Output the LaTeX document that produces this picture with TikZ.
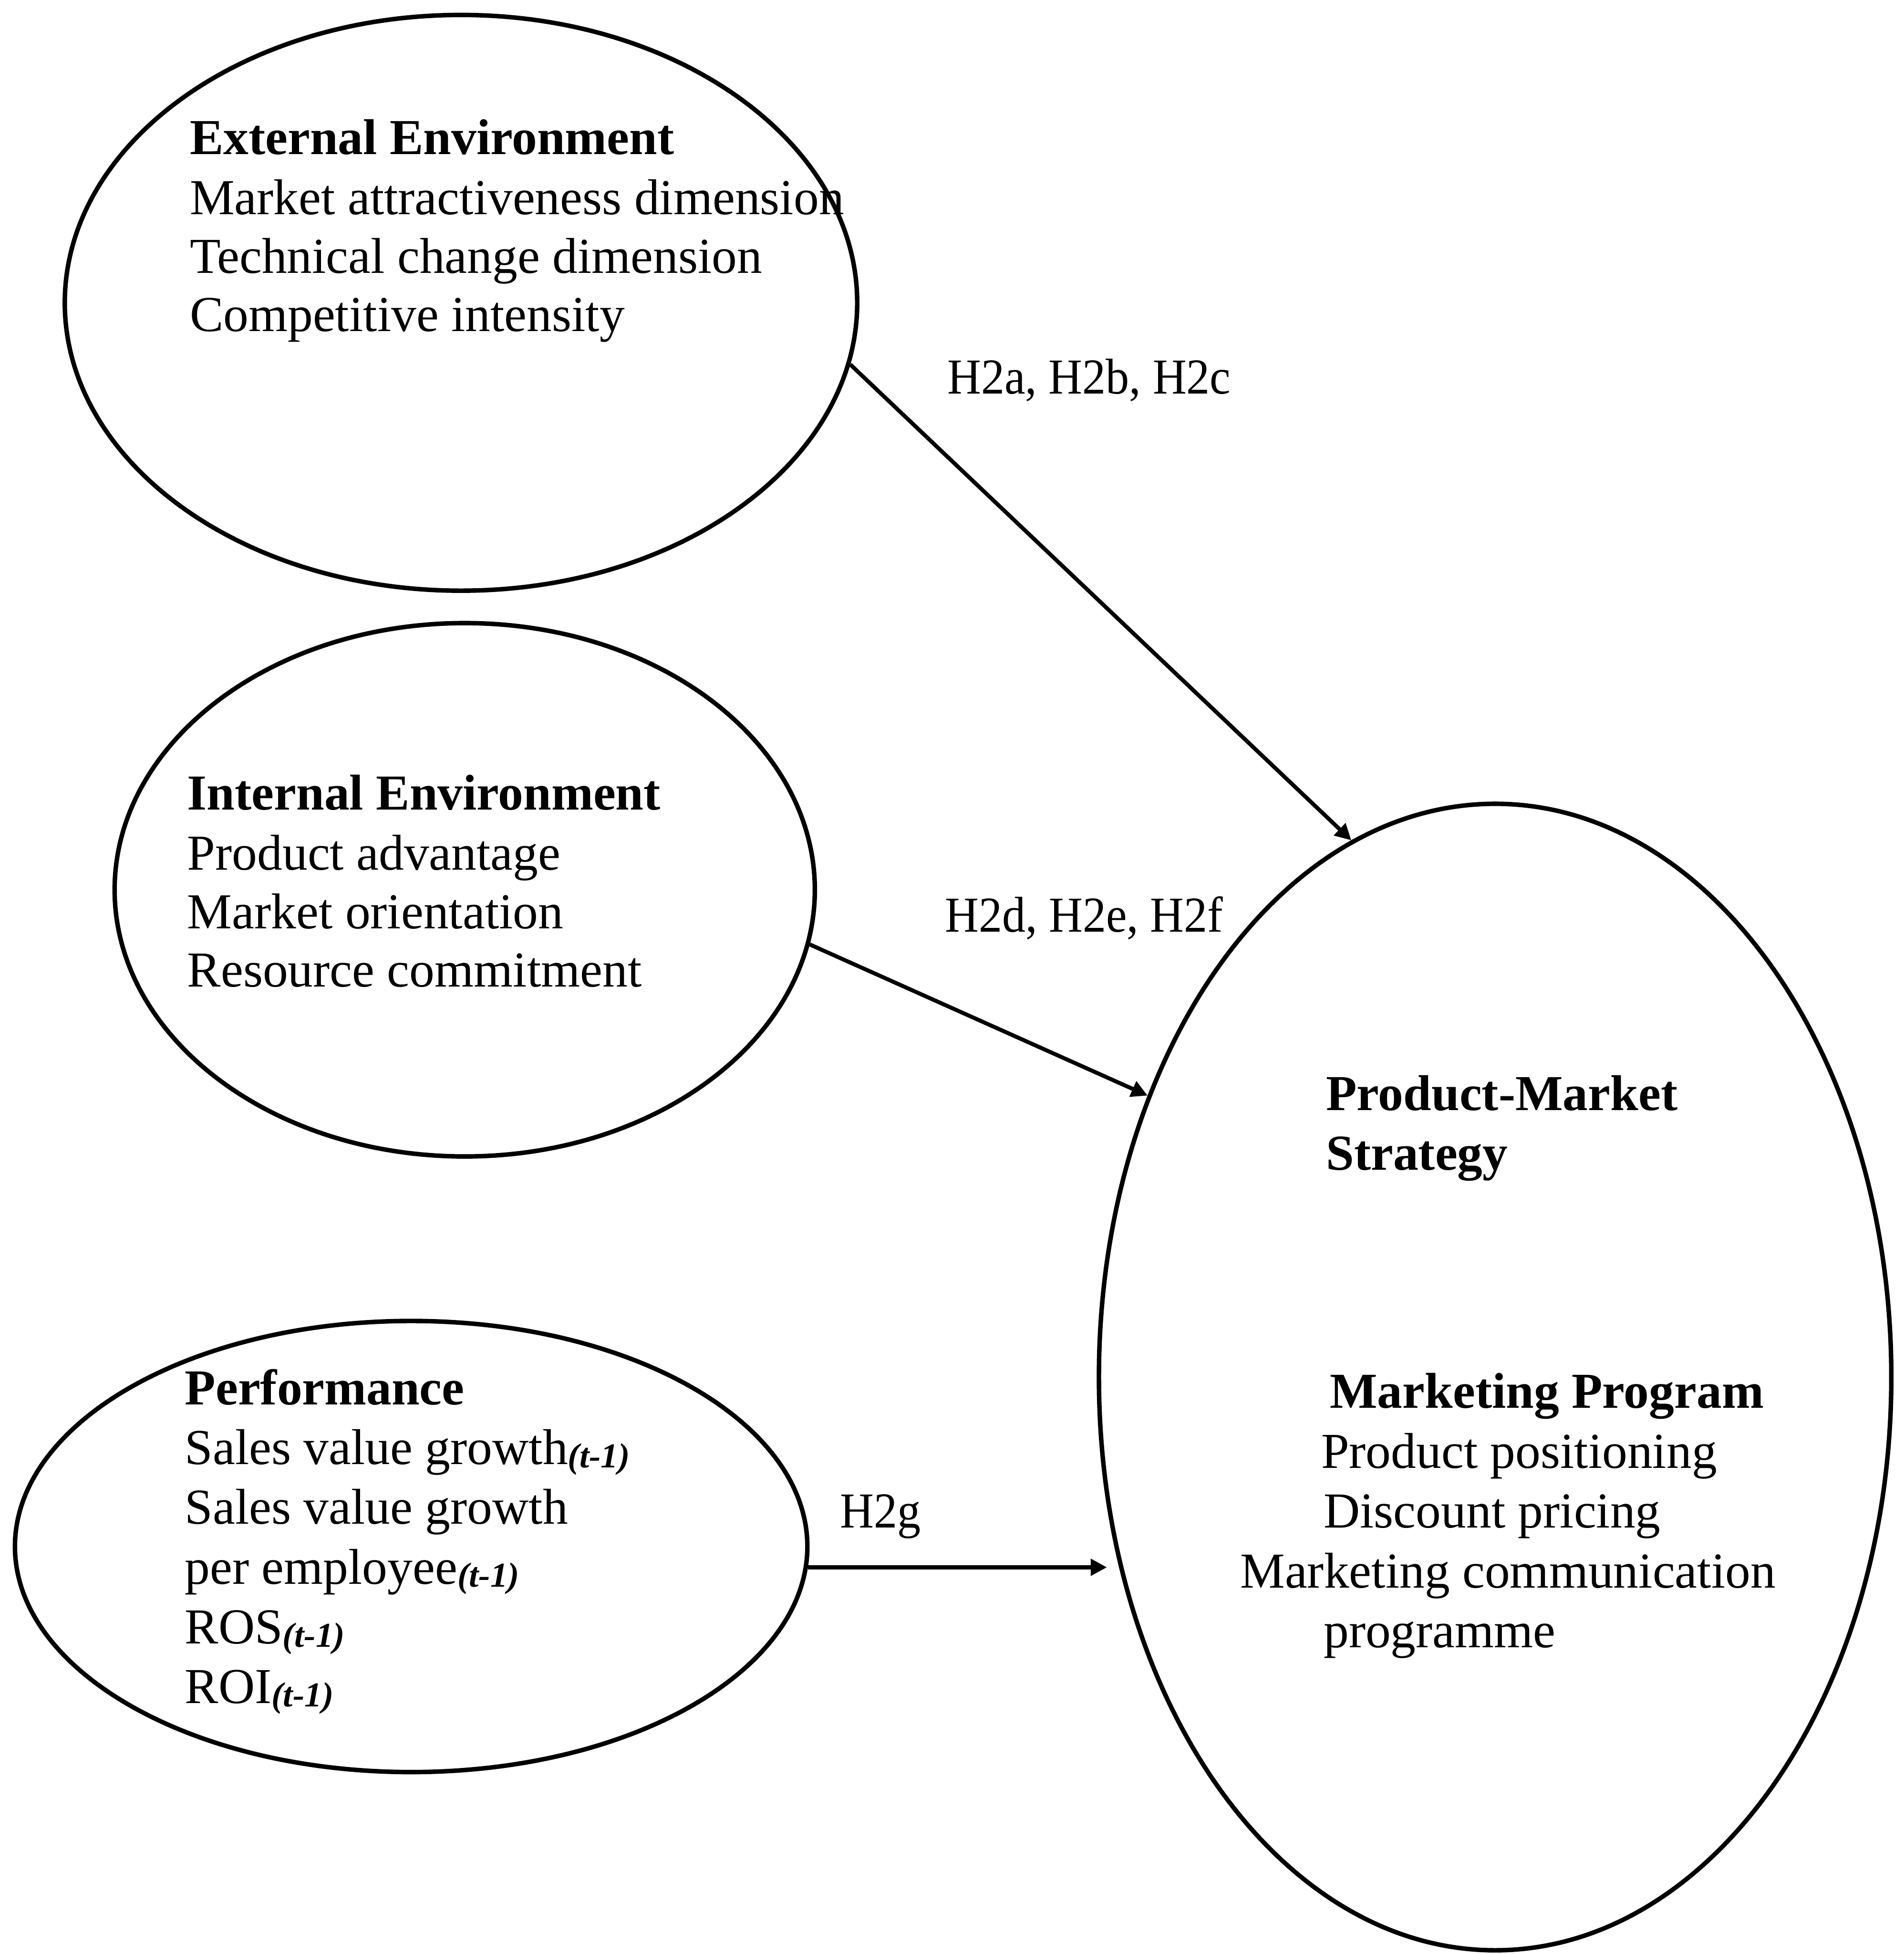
\documentclass[tikz,border=0pt]{standalone}
\usepackage{fontspec}
\setmainfont{Liberation Serif}
\usetikzlibrary{shapes.geometric,arrows.meta}
% lagged-variable marker set after a measure
\newcommand\tlag{\raisebox{-1.3pt}{\fontsize{14}{14}\selectfont\bfseries\itshape (t-1)}}
% hypothesis labels are set slightly condensed
\newcommand\hyp[1]{\scalebox{0.93}[1]{#1}}
\begin{document}
\begin{tikzpicture}[x=0.5pt,y=-0.5pt,
  bubble/.style={draw, ellipse, line width=1.8pt, inner sep=0pt},
  txt/.style={anchor=base west, inner sep=0pt, font=\fontsize{20.2}{24}\selectfont},
  head/.style={anchor=base west, inner sep=0pt, font=\fontsize{20.2}{24}\selectfont\bfseries},
  link/.style={line width=1.6pt, -{Triangle[length=6.5pt,width=6.5pt]}}]
\useasboundingbox (0,0) rectangle (1528,1568);

% construct ellipses
\node[bubble, minimum width=318pt, minimum height=231pt] (ext)  at (370,243)  {};
\node[bubble, minimum width=281pt, minimum height=214pt] (int)  at (373,714)  {};
\node[bubble, minimum width=318pt, minimum height=181pt] (perf) at (330,1241) {};
\node[bubble, minimum width=318pt, minimum height=460pt] (pms)  at (1200,1105) {};

% external environment
\node[head] (ext1) at (152,124) {External Environment};
\node[txt]  (ext2) at (152,172) {Market attractiveness dimension};
\node[txt]  (ext3) at (152,219) {Technical change dimension};
\node[txt]  (ext4) at (152,266) {Competitive intensity};

% internal environment
\node[head] (int1) at (150,650) {Internal Environment};
\node[txt]  (int2) at (150,698) {Product advantage};
\node[txt]  (int3) at (150,745) {Market orientation};
\node[txt]  (int4) at (150,792) {Resource commitment};

% performance
\node[head] (perf1) at (148,1127) {Performance};
\node[txt]  (perf2) at (148,1175) {Sales value growth\tlag};
\node[txt]  (perf3) at (148,1223) {Sales value growth};
\node[txt]  (perf4) at (148,1271) {per employee\tlag};
\node[txt]  (perf5) at (148,1319) {ROS\tlag};
\node[txt]  (perf6) at (148,1367) {ROI\tlag};

% product-market strategy
\node[head] (pms1) at (1064,891) {Product-Market};
\node[head] (pms2) at (1064,939) {Strategy};
\node[head] (mp1) at (1067,1130) {Marketing Program};
\node[txt]  (mp2) at (1060,1178) {Product positioning};
\node[txt]  (mp3) at (1062,1226) {Discount pricing};
\node[txt]  (mp4) at (995,1274)  {Marketing communication};
\node[txt]  (mp5) at (1062,1322) {programme};

% hypothesised links
\draw[link] (ext.-9) -- (pms.105.5);
\draw[link] (int.-9.4) -- (pms.141.4);
\draw[link, shorten >=5pt] (perf.-3) -- (perf.-3 -| pms.207);

\node[txt] (h1) at (760,316)  {\hyp{H2a, H2b, H2c}};
\node[txt] (h2) at (758,748)  {\hyp{H2d, H2e, H2f}};
\node[txt] (h3) at (674,1226) {\hyp{H2g}};
\end{tikzpicture}
\end{document}
